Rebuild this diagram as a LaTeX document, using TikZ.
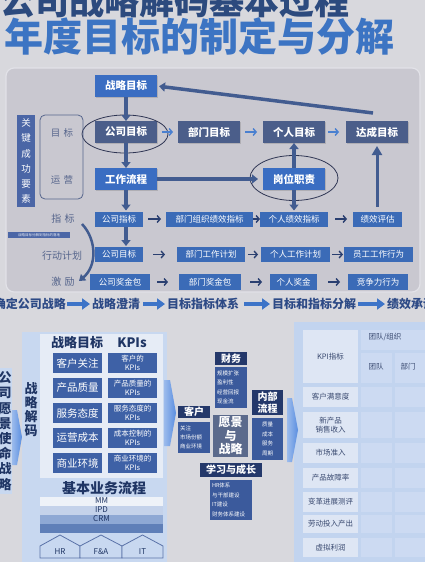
\documentclass[tikz,border=0pt]{standalone}
\usepackage{fontspec}
\setmainfont{Noto Sans CJK SC}
\usetikzlibrary{arrows.meta,shadows,calc,shapes.geometric}
\definecolor{bg}{HTML}{D8D8DD}
\definecolor{panel}{HTML}{C9C8D0}
\definecolor{panelborder}{HTML}{E2E2E8}
\definecolor{bblue}{HTML}{3A6DC2}
\definecolor{slate}{HTML}{4B5E8A}
\definecolor{rblue}{HTML}{3B6BB7}
\definecolor{arrc}{HTML}{425C90}
\definecolor{ellc}{HTML}{2E3553}
\definecolor{ttlnavy}{HTML}{2C4A7E}
\definecolor{ttlblue}{HTML}{3C74C3}
\definecolor{greytxt}{HTML}{56658C}
\definecolor{keybox}{HTML}{4B66A6}
\definecolor{flowtxt}{HTML}{2D4A86}
\definecolor{flowarr}{HTML}{3D74C8}
\definecolor{topsmall}{HTML}{4A80D0}
\definecolor{rowarrc}{HTML}{2A3F70}
\definecolor{bpanel}{HTML}{C8D8F0}
\definecolor{bpinner}{HTML}{E6ECF6}
\definecolor{tabfill}{HTML}{3E61A6}
\definecolor{darknavy}{HTML}{1F3564}
\definecolor{hdrnavy}{HTML}{24386A}
\definecolor{bsccont}{HTML}{3B5A9C}
\definecolor{vision}{HTML}{5B6A8C}
\definecolor{rpanel}{HTML}{C2D4EF}
\definecolor{rcell}{HTML}{DEE6F4}
\definecolor{rgrid}{HTML}{CCDAF2}
\definecolor{rtxt}{HTML}{3A4A70}
\definecolor{edgeblue}{HTML}{5A8EE0}
\definecolor{stripA}{HTML}{EEF2F8}
\definecolor{stripB}{HTML}{C4D2EA}
\definecolor{stripC}{HTML}{8EA8D4}
\definecolor{stripD}{HTML}{5F7FB8}
\definecolor{housec}{HTML}{5A72A8}
\begin{document}
\begin{tikzpicture}[x=1pt,y=-1pt,
  every node/.style={inner sep=0pt,outer sep=0pt},
  bb/.style={fill=bblue,text=white,font=\bfseries\fontsize{10.5}{11}\selectfont,minimum width=62pt,minimum height=22pt,drop shadow={shadow xshift=1pt,shadow yshift=-1.2pt,opacity=0.35}},
  sb/.style={bb,fill=slate},
  rb/.style={fill=rblue,text=white,font=\fontsize{8.5}{9}\selectfont,minimum height=15pt},
  thickarr/.style={draw=arrc,line width=3.5pt,-{Triangle[length=6pt,width=9pt]}},
  rowarr/.style 2 args={draw=rowarrc,line width=1.4pt,-{Straight Barb[length=3pt,width=7pt]},shorten <=#1,shorten >=#2},
  toparr/.style 2 args={draw=topsmall,line width=1.4pt,-{Straight Barb[length=3pt,width=7pt]},shorten <=#1,shorten >=#2},
  ell/.style={draw=ellc,line width=0.8pt,ellipse},
  glabel/.style={text=greytxt,font=\fontsize{9.5}{10}\selectfont},
  flowt/.style={text=flowtxt,font=\bfseries\fontsize{12}{12}\selectfont},
  flowa/.style={draw=flowarr,line width=4pt,-{Triangle[length=8pt,width=11pt]}},
  tabl/.style={fill=tabfill,text=white,font=\fontsize{10.5}{11}\selectfont,minimum width=49pt,minimum height=20pt},
  tabr/.style={fill=tabfill,text=white,font=\fontsize{7.5}{8.5}\selectfont,align=center,minimum width=49pt,minimum height=20pt},
  hdr/.style={fill=hdrnavy,text=white,font=\bfseries\fontsize{10}{11.5}\selectfont,align=center},
  bsc/.style={fill=bsccont,text=white,font=\fontsize{5.5}{9.5}\selectfont,inner xsep=2pt},
  rc/.style={fill=rcell,text=rtxt,font=\fontsize{7.5}{9}\selectfont,align=center,minimum width=55pt},
  rt/.style={text=rtxt,font=\fontsize{7.5}{9}\selectfont},
  house/.style={draw=housec,line width=0.8pt,fill=bpanel},
  stripe/.style={minimum width=123pt,minimum height=9pt,text=darknavy,font=\fontsize{8}{8}\selectfont}
]
\useasboundingbox (0,0) rectangle (425,562);
\clip (0,0) rectangle (425,562);
\fill[bg] (0,0) rectangle (425,562);

% titles
\node[anchor=base west,text=ttlnavy,font=\bfseries\fontsize{35}{35}\selectfont] (title1) at (0,14) {公司战略解码基本过程};
\node[anchor=base west,text=ttlblue,font=\bfseries\fontsize{39}{39}\selectfont] (title2) at (5,51) {年度目标的制定与分解};

% top panel
\draw[fill=panel,draw=panelborder,line width=1.2pt,rounded corners=8pt] (6,68) rectangle (420,292);

\node[bb] (zlmb) at (126,86) {战略目标};
\node[sb] (gsmb) at (126,132) {公司目标};
\node[sb] (bmmb) at (209,132) {部门目标};
\node[sb] (grmb) at (294,132) {个人目标};
\node[sb] (dcmb) at (377,132) {达成目标};
\node[bb] (gzlc) at (126,179) {工作流程};
\node[bb] (gwzz) at (294,179) {岗位职责};

\node[ell,minimum width=86pt,minimum height=38pt] (ellA) at (125,134) {};
\node[ell,minimum width=88pt,minimum height=45pt] (ellB) at (294,178) {};

% key factors column
\node[fill=keybox,text=white,align=center,font=\fontsize{9.5}{15.2}\selectfont,minimum width=18pt,minimum height=92pt] (gjcg) at (26,161) {关\\键\\成\\功\\要\\素};
\node[draw=greytxt,line width=0.8pt,rounded corners=5pt,minimum width=43pt,minimum height=84pt] (yybox) at (61.5,157) {};
\node[glabel] (lmb) at (62,133) {目\,\,标};
\node[glabel] (lyy) at (62,180) {运\,\,营};

% row boxes
\node[rb,minimum width=48pt] (a1) at (119,219) {公司指标};
\node[rb,minimum width=87pt] (a2) at (209.5,219) {部门组织绩效指标};
\node[rb,minimum width=68pt] (a3) at (294,219) {个人绩效指标};
\node[rb,minimum width=49pt] (a4) at (377.5,219) {绩效评估};

\node[rb,minimum width=48pt] (b1) at (119,254.5) {公司目标};
\node[rb,minimum width=68pt] (b2) at (211,254.5) {部门工作计划};
\node[rb,minimum width=69pt] (b3) at (295.5,254.5) {个人工作计划};
\node[rb,minimum width=69pt] (b4) at (378.5,254.5) {员工工作行为};

\node[rb,minimum width=60pt,minimum height=16pt] (c1) at (120,282) {公司奖金包};
\node[rb,minimum width=62pt,minimum height=16pt] (c2) at (210,282) {部门奖金包};
\node[rb,minimum width=47pt,minimum height=16pt] (c3) at (293.5,282) {个人奖金};
\node[rb,minimum width=60pt,minimum height=16pt] (c4) at (378,282) {竞争力行为};

\node[glabel,font=\fontsize{10}{10}\selectfont] (lzb) at (63,219) {指\,\,标};
\node[glabel,font=\fontsize{10}{10}\selectfont] (lxd) at (62,256) {行动计划};
\node[glabel,font=\fontsize{10}{10}\selectfont] (ljl) at (63,282) {激\,\,励};
\node[fill=keybox,text=white!85!keybox,font=\fontsize{3.5}{4}\selectfont,minimum width=62pt,minimum height=6pt] (smallbox) at (39,235) {战略目标分解到指标的落地};

% thick arrows
\draw[thickarr] (zlmb.south) -- (gsmb.north);
\draw[thickarr] (gsmb.south) -- (gzlc.north);
\draw[thickarr,shorten >=5pt] (gzlc.east) -- (gwzz.west);
\draw[thickarr] (gwzz.north) -- (grmb.south);
\draw[thickarr,shorten >=2pt] ($(dcmb.north)+(-4,-8)$) -- (zlmb.east);
\draw[thickarr,shorten >=1pt] (gzlc.south) -- (gzlc.south |- a1.north);
\draw[thickarr,shorten >=1pt] (gzlc.south |- a1.south) -- (gzlc.south |- b1.north);
\draw[thickarr,shorten >=1pt] (gwzz.south) -- (gwzz.south |- a3.north);
\draw[draw=arrc,line width=3pt,-{Triangle[length=9pt,width=10pt]},shorten <=5pt,shorten >=3pt] (a4.north -| dcmb.south) -- (dcmb.south);

% small arrows
\draw[toparr={5pt}{5pt}] (gsmb.east) -- (bmmb.west);
\draw[toparr={5pt}{6pt}] (bmmb.east) -- (grmb.west);
\draw[toparr={3pt}{7pt}] (grmb.east) -- (dcmb.west);

\draw[rowarr={5pt}{5pt}] (a1.east) -- (a2.west);
\draw[rowarr={0pt}{0pt}] (a2.east) -- (a3.west);
\draw[rowarr={7pt}{6pt}] (a3.east) -- (a4.west);
\draw[rowarr={10pt}{12pt}] (b1.east) -- (b2.west);
\draw[rowarr={3pt}{3pt}] (b2.east) -- (b3.west);
\draw[rowarr={2pt}{1pt}] (b3.east) -- (b4.west);
\draw[rowarr={7pt}{11pt}] (c1.east) -- (c2.west);
\draw[rowarr={9pt}{8pt}] (c2.east) -- (c3.west);
\draw[rowarr={11pt}{8pt}] (c3.east) -- (c4.west);

% curved arrow
\coordinate (cvs) at (82,224);
\coordinate (cve) at (79,281);
\draw[draw=arrc,line width=2.5pt,-{Triangle[length=6pt,width=8pt]}] (cvs) .. controls (97,240) and (97,266) .. (cve);

% flow strip
\node[flowt,anchor=east] (f1) at (66,304) {确定公司战略};
\node[flowt] (f2) at (116,304) {战略澄清};
\node[flowt] (f3) at (203,304) {目标指标体系};
\node[flowt] (f4) at (314,304) {目标和指标分解};
\node[flowt,anchor=west] (f5) at (387,304) {绩效承诺};
\draw[flowa,shorten <=1pt,shorten >=2pt] (f1.east) -- (f2.west);
\draw[flowa,shorten <=3pt,shorten >=2pt] (f2.east) -- (f3.west);
\draw[flowa,shorten <=5pt,shorten >=2pt] (f3.east) -- (f4.west);
\draw[flowa,shorten <=2pt,shorten >=2pt] (f4.east) -- (f5.west);

% bottom left
\fill[bpanel] (0,368) rectangle (12,494);
\node[text=darknavy,align=center,font=\bfseries\fontsize{13}{15.2}\selectfont] (gsyj) at (5,431) {公\\司\\愿\\景\\使\\命\\战\\略};
\shade[left color=edgeblue!60,right color=edgeblue] (12,410) -- (17,410) -- (22,437) -- (17,465) -- (12,465) -- cycle;

\fill[bpanel] (22,332) rectangle (167,562);
\fill[bpinner] (40,334) rectangle (163,478);
\shade[left color=edgeblue!60,right color=edgeblue] (164,380) -- (170,380) -- (176,413) -- (170,446) -- (164,446) -- cycle;

\node[text=darknavy,align=center,font=\bfseries\fontsize{13}{14}\selectfont] (zljm) at (31,410) {战\\略\\解\\码};
\node[text=darknavy,font=\bfseries\fontsize{13}{13}\selectfont] (hzl) at (77,343) {战略目标};
\node[text=darknavy,font=\bfseries\fontsize{13}{13}\selectfont] (hkpi) at (132,343) {KPIs};

\foreach \yy/\aa/\bb [count=\i] in {363/客户关注/客户的,388/产品质量/产品质量的,413/服务态度/服务态度的,438/运营成本/成本控制的,463/商业环境/商业环境的}{
  \node[tabl] (sa\i) at (77.5,\yy) {\aa};
  \node[tabr] (sk\i) at (132.5,\yy) {\bb\\KPIs};
}

\node[text=darknavy,font=\bfseries\fontsize{14}{14}\selectfont] (jbyw) at (104,488) {基本业务流程};
\node[stripe,fill=stripA] (sMM) at (101.5,501) {MM};
\node[stripe,fill=stripB] (sIPD) at (101.5,510) {IPD};
\node[stripe,fill=stripC] (sCRM) at (101.5,519) {CRM};
\node[stripe,fill=stripD] (sISC) at (101.5,528) {};

\draw[house] (40,558) -- (40,546) -- (60,535) -- (80,546) -- (80,558) -- cycle;
\draw[house] (80,558) -- (80,546) -- (101,535) -- (122,546) -- (122,558) -- cycle;
\draw[house] (122,558) -- (122,546) -- (142.5,535) -- (163,546) -- (163,558) -- cycle;
\node[text=darknavy,font=\fontsize{8}{8}\selectfont] (hHR) at (60,552) {HR};
\node[text=darknavy,font=\fontsize{8}{8}\selectfont] (hFA) at (101,552) {F\&A};
\node[text=darknavy,font=\fontsize{8}{8}\selectfont] (hIT) at (142.5,552) {IT};

% balanced scorecard
\node[hdr,minimum width=32pt,minimum height=13pt] (cw) at (231,358.5) {财务};
\node[bsc,text width=28pt,minimum height=41pt,align=left] (cwc) at (231,387.5) {规模扩张\\盈利性\\经营回报\\现金流};
\node[hdr,minimum width=31pt,minimum height=25pt] (nb) at (267.5,402.5) {内部\\流程};
\node[bsc,text width=27pt,minimum height=42pt,align=center] (nbc) at (267.5,439) {质量\\成本\\服务\\周期};
\node[hdr,minimum width=32pt,minimum height=12pt] (kh) at (194,412) {客户};
\node[bsc,text width=28pt,minimum height=31pt,align=left,font=\fontsize{5.5}{9}\selectfont] (khc) at (194,437.5) {关注\\市场份额\\商业环境};
\node[fill=vision,text=white,align=center,font=\bfseries\fontsize{12}{13.5}\selectfont,minimum width=35pt,minimum height=42pt] (yj) at (230.5,436) {愿景\\与\\战略};
\node[hdr,minimum width=62pt,minimum height=14pt] (xx) at (231,470) {学习与成长};
\node[bsc,text width=38pt,minimum height=40pt,align=left] (xxc) at (231,500) {HR体系\\与干部建设\\IT建设\\财务体系建设};

% right panel
\fill[rpanel] (294,322) rectangle (425,562);
\shade[left color=edgeblue!60,right color=edgeblue] (287,398) -- (292,398) -- (298,430) -- (292,462) -- (287,462) -- cycle;
\fill[rgrid] (361,330) rectangle (425,350);
\fill[rgrid] (361,353) rectangle (392,383);
\fill[rgrid] (395,353) rectangle (425,383);
\foreach \ya/\yb in {387/407,412/438,443/463,468/488,492/512,515/533,538/557}{
  \fill[rgrid] (361,\ya) rectangle (392,\yb);
  \fill[rgrid] (395,\ya) rectangle (425,\yb);
}
\node[rc,minimum height=53pt] (kpi) at (330.5,356.5) {KPI指标};
\node[rt] (tdzz) at (385,337) {团队/组织};
\node[rt] (td) at (376,367) {团队};
\node[rt] (bm) at (408,367) {部门};
\node[rc,minimum height=20pt] (r1) at (330.5,397) {客户满意度};
\node[rc,minimum height=26pt] (r2) at (330.5,425) {新产品\\销售收入};
\node[rc,minimum height=20pt] (r3) at (330.5,453) {市场准入};
\node[rc,minimum height=20pt] (r4) at (330.5,478) {产品故障率};
\node[rc,minimum height=20pt] (r5) at (330.5,502) {变革进展测评};
\node[rc,minimum height=18pt] (r6) at (330.5,524) {劳动投入产出};
\node[rc,minimum height=19pt] (r7) at (330.5,547.5) {虚拟利润};
\end{tikzpicture}
\end{document}
